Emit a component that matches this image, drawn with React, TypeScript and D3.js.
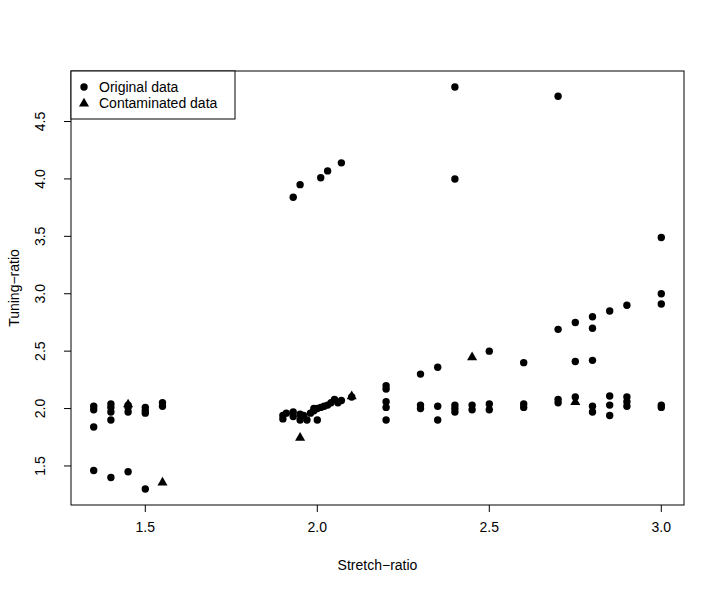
import React from "react";
import * as d3 from "d3";

// original data (stretch-ratio, tuning-ratio)
const originalX = [
  1.35, 1.35, 1.35, 1.35,
  1.4, 1.4, 1.4, 1.4, 1.4,
  1.45, 1.45, 1.45, 1.45,
  1.5, 1.5, 1.5, 1.5,
  1.55, 1.55,
  1.9, 1.9, 1.91, 1.93, 1.93, 1.95, 1.95, 1.96, 1.97, 1.98, 1.99, 1.99, 2.0, 2.0,
  2.01, 2.02, 2.03, 2.04, 2.05, 2.06, 2.07, 2.1,
  1.93, 1.95, 2.01, 2.03, 2.07,
  2.2, 2.2, 2.2, 2.2, 2.2,
  2.3, 2.3, 2.3,
  2.35, 2.35, 2.35,
  2.4, 2.4, 2.4, 2.4, 2.4,
  2.45, 2.45,
  2.5, 2.5, 2.5,
  2.6, 2.6, 2.6,
  2.7, 2.7, 2.7, 2.7,
  2.75, 2.75, 2.75,
  2.8, 2.8, 2.8, 2.8, 2.8,
  2.85, 2.85, 2.85, 2.85,
  2.9, 2.9, 2.9, 2.9,
  3.0, 3.0, 3.0, 3.0, 3.0,
];
const originalY = [
  2.02, 1.99, 1.84, 1.46,
  2.04, 2.01, 1.97, 1.9, 1.4,
  2.01, 1.97, 2.03, 1.45,
  2.01, 1.98, 1.96, 1.3,
  2.05, 2.02,
  1.91, 1.94, 1.96, 1.97, 1.93, 1.95, 1.9, 1.94, 1.9, 1.96, 1.98, 2.0, 2.0, 1.9,
  2.01, 2.02, 2.03, 2.05, 2.08, 2.05, 2.07, 2.1,
  3.84, 3.95, 4.01, 4.07, 4.14,
  2.2, 2.17, 2.06, 2.01, 1.9,
  2.3, 2.03, 2.0,
  2.36, 2.02, 1.9,
  4.8, 4.0, 2.03, 2.0, 1.97,
  2.03, 1.99,
  2.5, 2.04, 1.99,
  2.4, 2.04, 2.01,
  4.72, 2.69, 2.08, 2.05,
  2.75, 2.41, 2.1,
  2.8, 2.7, 2.42, 2.02, 1.97,
  2.85, 2.11, 2.03, 1.94,
  2.9, 2.1, 2.06, 2.02,
  3.49, 3.0, 2.91, 2.03, 2.01,
];

// contaminated data
const contaminatedX = [1.45, 1.55, 1.95, 2.1, 2.45, 2.75];
const contaminatedY = [2.04, 1.36, 1.75, 2.11, 2.45, 2.06];

const xTicks = [1.5, 2.0, 2.5, 3.0];
const yTicks = [1.5, 2.0, 2.5, 3.0, 3.5, 4.0, 4.5];
const legendLabels = ["Original data", "Contaminated data"];

const W = 719;
const H = 592;
const left = 71, right = 684, top = 71, bottom = 505;
const font = "'Liberation Sans', Arial, Helvetica, sans-serif";
const fs = 14;

export default function App() {
  // R style 4% padding around the data range
  const xr = [1.35, 3.0];
  const yr = [1.3, 4.8];
  const xp = (xr[1] - xr[0]) * 0.04;
  const yp = (yr[1] - yr[0]) * 0.04;
  const x = d3.scaleLinear().domain([xr[0] - xp, xr[1] + xp]).range([left, right]);
  const y = d3.scaleLinear().domain([yr[0] - yp, yr[1] + yp]).range([bottom, top]);

  const tri = d3.symbol(d3.symbolTriangle, 44)() || "";

  return (
    <div style={{ position: "fixed", left: 0, top: 0 }}>
      <svg width={W} height={H} style={{ display: "block", background: "#fff" }}>
        <rect x={left} y={top} width={right - left} height={bottom - top} fill="none" stroke="#000" strokeWidth={1} />

        {/* x axis */}
        {xTicks.map((t) => (
          <g key={"x" + t}>
            <line x1={x(t)} x2={x(t)} y1={bottom} y2={bottom + 7} stroke="#000" />
            <text x={x(t)} y={532} textAnchor="middle" fontFamily={font} fontSize={fs}>
              {t.toFixed(1)}
            </text>
          </g>
        ))}

        {/* y axis */}
        {yTicks.map((t) => (
          <g key={"y" + t}>
            <line x1={left - 7} x2={left} y1={y(t)} y2={y(t)} stroke="#000" />
            <text
              transform={`translate(45,${y(t)}) rotate(-90)`}
              textAnchor="middle"
              fontFamily={font}
              fontSize={fs}
            >
              {t.toFixed(1)}
            </text>
          </g>
        ))}

        <text x={(left + right) / 2} y={570} textAnchor="middle" fontFamily={font} fontSize={fs}>
          Stretch−ratio
        </text>
        <text
          transform={`translate(19,${(top + bottom) / 2}) rotate(-90)`}
          textAnchor="middle"
          fontFamily={font}
          fontSize={fs}
        >
          Tuning−ratio
        </text>

        {/* points */}
        {contaminatedX.map((v, i) => (
          <path key={"c" + i} d={tri} transform={`translate(${x(v)},${y(contaminatedY[i]) + 0.5})`} fill="#000" />
        ))}
        {originalX.map((v, i) => (
          <circle key={"o" + i} cx={x(v)} cy={y(originalY[i])} r={3.7} fill="#000" />
        ))}

        {/* legend */}
        <rect x={left} y={top} width={164} height={48} fill="#fff" stroke="#000" />
        <circle cx={84} cy={87} r={3.7} fill="#000" />
        <path d={tri} transform="translate(84,103.5)" fill="#000" />
        <text x={99} y={92} fontFamily={font} fontSize={fs}>
          {legendLabels[0]}
        </text>
        <text x={99} y={108} fontFamily={font} fontSize={fs}>
          {legendLabels[1]}
        </text>
      </svg>
    </div>
  );
}
